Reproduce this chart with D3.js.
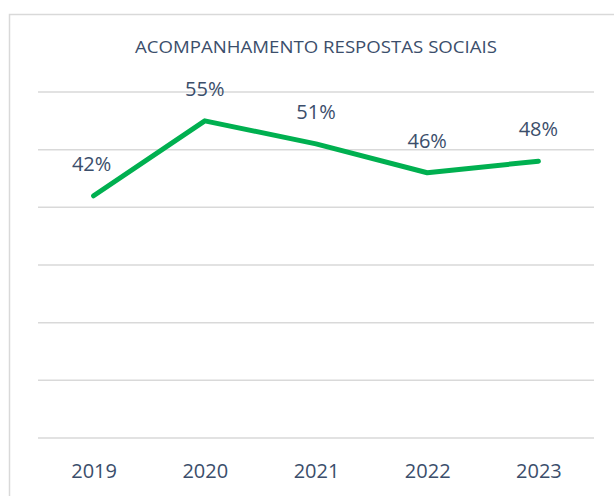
<!DOCTYPE html>
<html>
<head>
<meta charset="utf-8">
<script src="https://cdn.jsdelivr.net/npm/d3@7"></script>
<style>
  body { margin: 0; background: #fff; }
</style>
</head>
<body>
<div id="chart"></div>
<script>
var years = ["2019", "2020", "2021", "2022", "2023"];
var values = [0.42, 0.55, 0.51, 0.46, 0.48];
var gridTicks = [0, 0.1, 0.2, 0.3, 0.4, 0.5, 0.6];
var chartTitle = "ACOMPANHAMENTO RESPOSTAS SOCIAIS";

function draw_Chart() {
    "use strict";
    var width = 614, height = 496;
    var svg = d3.select("#chart")
        .append("svg")
        .attr("width", width)
        .attr("height", height);

    // outer chart border (runs off the right and bottom edges)
    svg.append("rect")
        .attr("x", 9.5)
        .attr("y", 14.5)
        .attr("width", 700)
        .attr("height", 600)
        .attr("fill", "#fff")
        .attr("stroke", "#d9d9d9")
        .attr("stroke-width", 1.5);

    var x = d3.scalePoint()
        .domain(years)
        .range([38, 594])
        .padding(0.5);

    var y = d3.scaleLinear()
        .domain([0, 0.6])
        .range([438, 92]);

    svg.append("g")
        .selectAll("line")
        .data(gridTicks)
        .enter()
        .append("line")
        .attr("x1", 38)
        .attr("x2", 594)
        .attr("y1", function (d) { return y(d); })
        .attr("y2", function (d) { return y(d); })
        .attr("stroke", "#d9d9d9")
        .attr("stroke-width", 1.5);

    svg.append("text")
        .attr("x", 316)
        .attr("y", 53)
        .attr("text-anchor", "middle")
        .attr("textLength", 362)
        .attr("lengthAdjust", "spacingAndGlyphs")
        .style("font-family", "'Open Sans', sans-serif")
        .style("font-size", "17px")
        .style("fill", "#3b4e6b")
        .text(chartTitle);

    var xAxis = d3.axisBottom(x).tickSize(0).tickPadding(0);
    var gx = svg.append("g")
        .attr("transform", "translate(0,464)")
        .call(xAxis);
    gx.select(".domain").remove();
    gx.selectAll("text")
        .attr("dy", "0.71em")
        .style("font-family", "'Open Sans', sans-serif")
        .style("font-size", "20px")
        .style("fill", "#3b4e6b");

    var data = years.map(function (d, i) { return { year: d, value: values[i] }; });

    var line = d3.line()
        .x(function (d) { return x(d.year); })
        .y(function (d) { return y(d.value); });

    svg.append("path")
        .datum(data)
        .attr("d", line)
        .attr("fill", "none")
        .attr("stroke", "#00b050")
        .attr("stroke-width", 5)
        .attr("stroke-linecap", "round")
        .attr("stroke-linejoin", "round");

    svg.selectAll("text.lbl")
        .data(data)
        .enter()
        .append("text")
        .attr("class", "lbl")
        .attr("x", function (d) { return x(d.year) - (d.year === "2019" ? 2 : 0); })
        .attr("y", function (d) { return y(d.value) - 25; })
        .attr("text-anchor", "middle")
        .style("font-family", "'Open Sans', sans-serif")
        .style("font-size", "20px")
        .style("fill", "#3b4e6b")
        .text(function (d) { return Math.round(d.value * 100) + "%"; });
}

draw_Chart();
</script>
</body>
</html>
